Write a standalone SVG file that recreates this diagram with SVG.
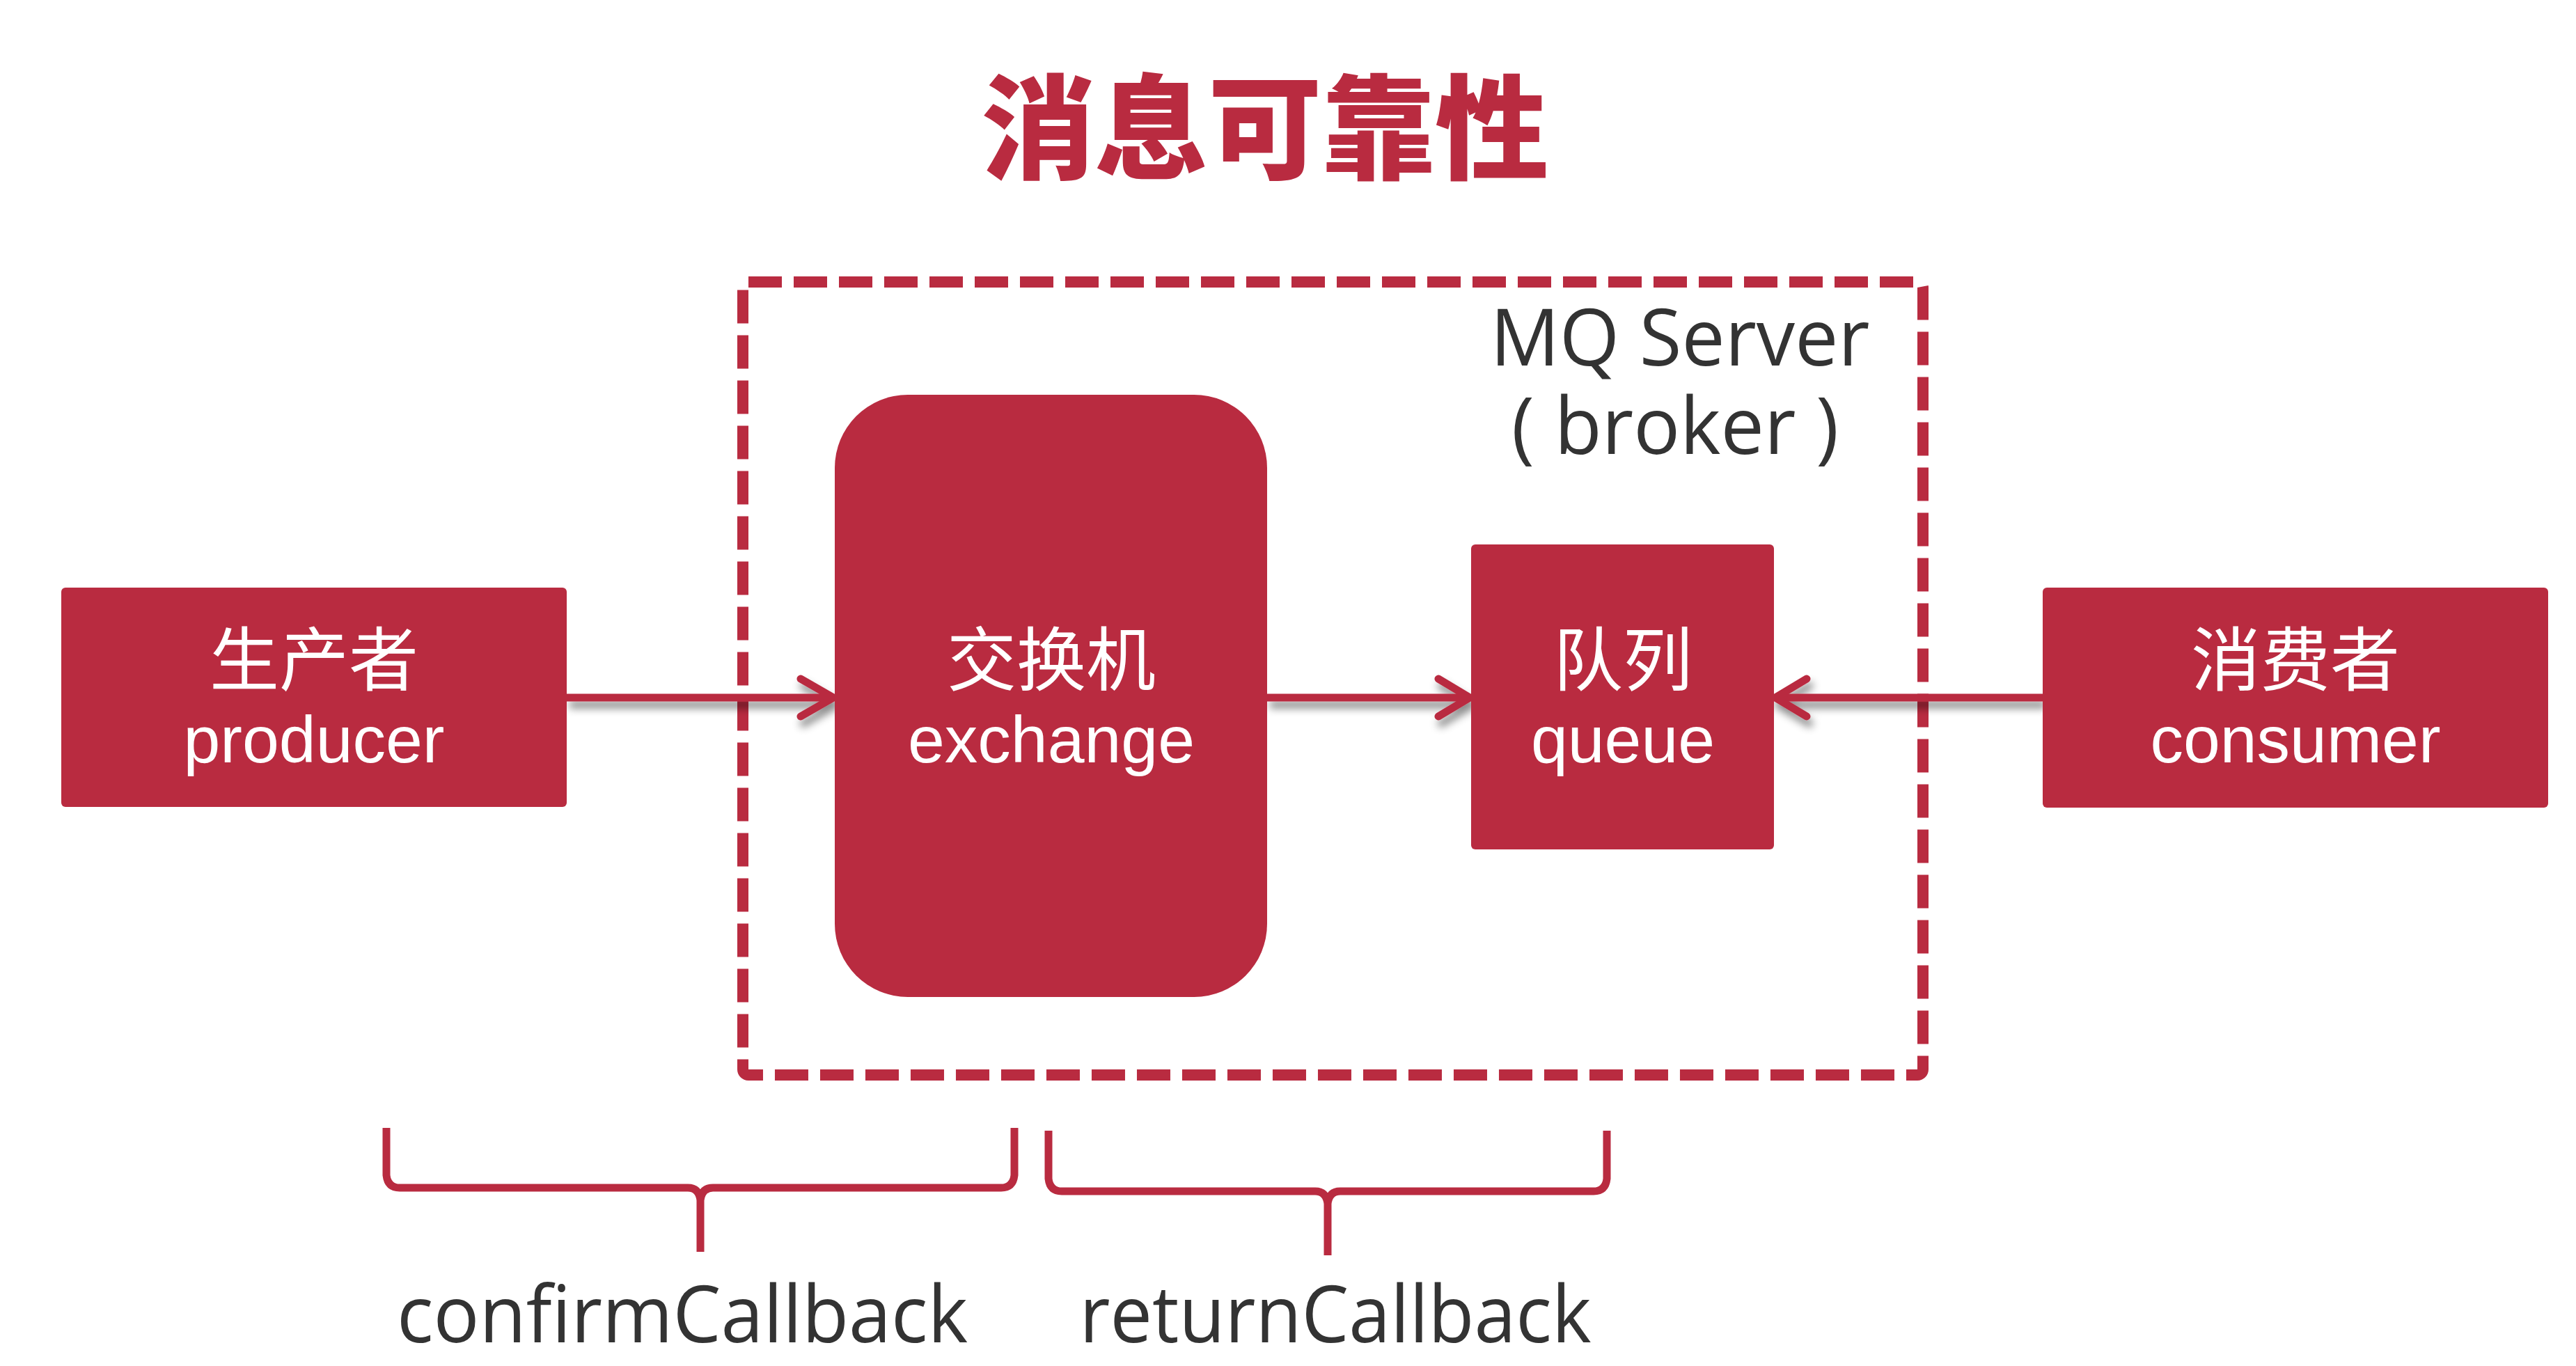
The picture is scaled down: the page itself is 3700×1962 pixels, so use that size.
<svg xmlns="http://www.w3.org/2000/svg" width="3700" height="1962" viewBox="0 0 3700 1962">
<defs>
<style>
.box{fill:#B92B40}
.cn{font-family:"Noto Sans CJK SC","Noto Sans",sans-serif;font-size:100px;fill:#fff;text-anchor:middle}
.en{font-family:"Liberation Sans",Arial,sans-serif;font-size:95px;fill:#fff;text-anchor:middle}
.lbl{font-family:"Open Sans","Noto Sans",sans-serif;font-size:114px;fill:#333;text-anchor:middle}
.conn{fill:none;stroke:#B92B40;stroke-width:11}
.head{fill:none;stroke:#B92B40;stroke-width:11;stroke-linecap:round;stroke-linejoin:round}
.brace{fill:none;stroke:#B92B40;stroke-width:11;stroke-linejoin:round}
</style>
<filter id="sh" x="-20%" y="-100%" width="140%" height="400%">
<feDropShadow dx="4" dy="10" stdDeviation="6" flood-color="#000" flood-opacity="0.45"/>
</filter>
</defs>
<rect width="3700" height="1962" fill="#fff"/>

<g id="title">
<text x="1817" y="244" font-family="'Noto Sans CJK SC',sans-serif" font-weight="900" font-size="163" fill="#B92B40" text-anchor="middle">消息可靠性</text>
</g>

<g id="mq-server">
<rect x="1067" y="405" width="1695" height="1139" rx="8" fill="none" stroke="#B92B40" stroke-width="16" stroke-dasharray="48 17"/>
<text class="lbl"><tspan x="2413" y="525" textLength="545" lengthAdjust="spacingAndGlyphs">MQ Server</tspan><tspan x="2406" y="652" textLength="470" lengthAdjust="spacingAndGlyphs">( broker )</tspan></text>
</g>

<g id="connectors" filter="url(#sh)">
<path class="conn" d="M814 1002H1193"/>
<path class="head" d="M1150 975L1197 1002L1150 1029"/>
<path class="conn" d="M1820 1002H2107"/>
<path class="head" d="M2066 975L2111 1002L2066 1029"/>
<path class="conn" d="M2934 1002H2554"/>
<path class="head" d="M2595 975L2550 1002L2595 1029"/>
</g>

<g id="producer">
<rect class="box" x="88" y="844" width="726" height="315" rx="6"/>
<text class="cn" x="451" y="984">生产者</text>
<text class="en" x="451" y="1095">producer</text>
</g>

<g id="exchange">
<rect class="box" x="1199" y="567" width="621" height="865" rx="105"/>
<text class="cn" x="1510" y="984">交换机</text>
<text class="en" x="1510" y="1095">exchange</text>
</g>

<g id="queue">
<rect class="box" x="2113" y="782" width="435" height="438" rx="6"/>
<text class="cn" x="2331" y="984">队列</text>
<text class="en" x="2331" y="1095">queue</text>
</g>

<g id="consumer">
<rect class="box" x="2934" y="844" width="726" height="316" rx="6"/>
<text class="cn" x="3297" y="984">消费者</text>
<text class="en" x="3297" y="1095">consumer</text>
</g>

<g id="confirm-brace">
<path class="brace" d="M555 1620V1688Q557 1706 574 1706H988Q1004 1706 1006 1724V1798M1006 1724Q1008 1706 1024 1706H1438Q1455 1706 1457 1688V1620"/>
<text class="lbl" x="980" y="1928" textLength="820" lengthAdjust="spacingAndGlyphs">confirmCallback</text>
</g>

<g id="return-brace">
<path class="brace" d="M1506 1624V1693Q1508 1711 1525 1711H1889Q1905 1711 1907 1729V1803M1907 1729Q1909 1711 1925 1711H2289Q2306 1711 2308 1693V1624"/>
<text class="lbl" x="1918" y="1928" textLength="735" lengthAdjust="spacingAndGlyphs">returnCallback</text>
</g>
</svg>
